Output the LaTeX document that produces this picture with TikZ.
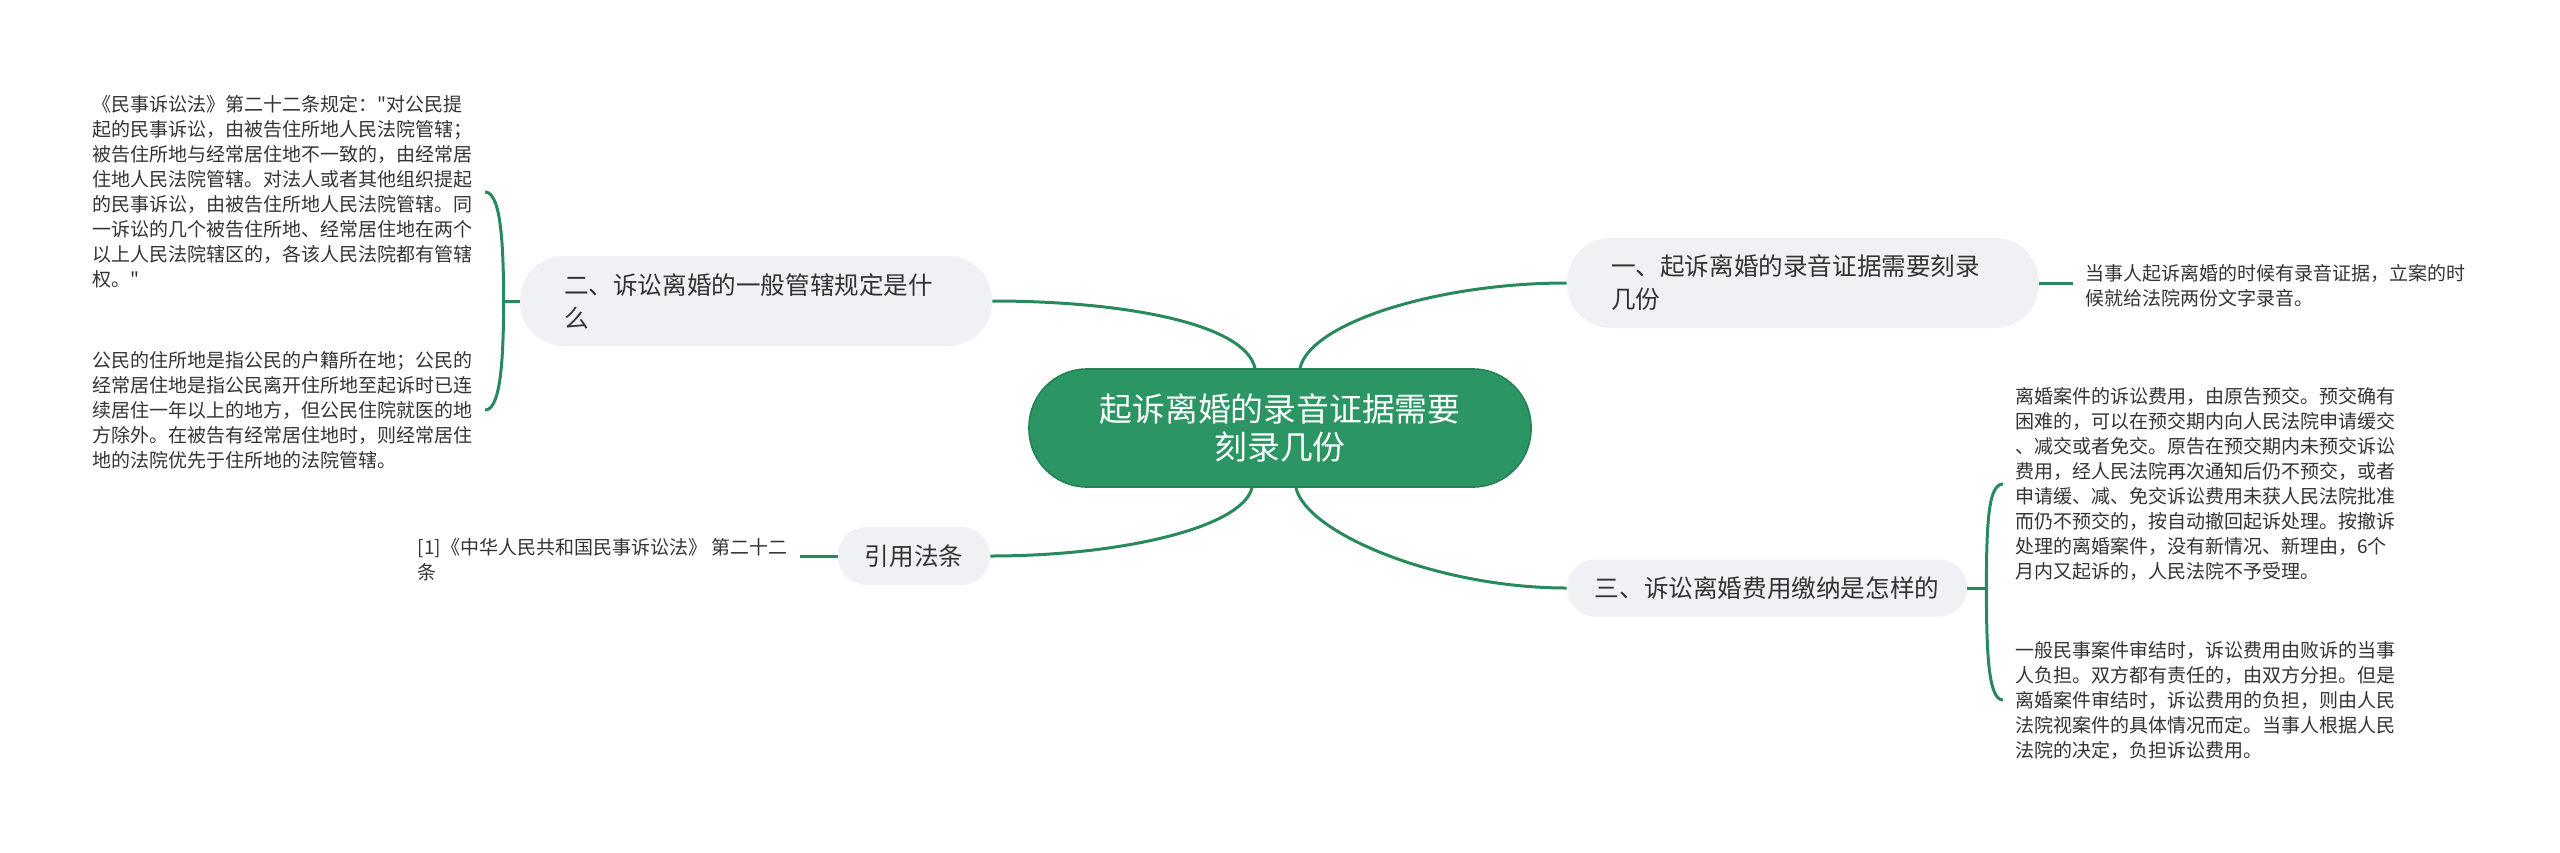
\documentclass[tikz,border=0pt]{standalone}
\usepackage{fontspec}
\setmainfont{Noto Sans CJK SC}[Ligatures=TeXOff]
\usepackage{tikz}
\usetikzlibrary{calc}
\definecolor{mapgreen}{RGB}{43,150,100}
\definecolor{linegreen}{RGB}{40,138,92}
\definecolor{boxgrey}{RGB}{239,241,244}
\definecolor{textgrey}{RGB}{51,51,51}

\begin{document}
\begin{tikzpicture}[x=0.5pt,y=-0.5pt,auto]
		\tikzstyle{rootnode}=[rectangle,rounded corners=29pt,fill=mapgreen,
			draw=mapgreen!85!black,line width=0.8pt,minimum width=251pt,
			minimum height=59pt,text=white,align=center,
			font=\fontsize{16.4pt}{19pt}\selectfont];
		\tikzstyle{topic}=[rectangle,fill=boxgrey,text=textgrey,inner sep=0pt,
			font=\fontsize{12.3pt}{16.5pt}\selectfont];
		\tikzstyle{leaf}=[align=left,text=textgrey,inner xsep=6pt,
			font=\fontsize{9.5pt}{12.5pt}\selectfont];
		\tikzstyle{link}=[draw=linegreen,line width=1.5pt];
		\useasboundingbox (0,0) rectangle (2560,852);

		\node[rootnode](c) at (1280,428){起诉离婚的录音证据需要\\刻录几份};
		\node[topic,minimum width=236pt,minimum height=45pt,rounded corners=22pt,
			text width=192pt,align=left](1) at (1803,283){一、起诉离婚的录音证据需要刻录\\几份};
		\node[topic,minimum width=236pt,minimum height=45pt,rounded corners=22pt,
			text width=192pt,align=left](2) at (756,301){二、诉讼离婚的一般管辖规定是什\\么};
		\node[topic,minimum width=200pt,minimum height=28.5pt,rounded corners=14pt](3) at (1767,588){三、诉讼离婚费用缴纳是怎样的};
		\node[topic,minimum width=76pt,minimum height=29pt,rounded corners=14pt](4) at (914,556){引用法条};

		\node[leaf,anchor=west](10) at (2073,286){当事人起诉离婚的时候有录音证据，立案的时\\候就给法院两份文字录音。};
		\node[leaf,anchor=east](20) at (485,192){《民事诉讼法》第二十二条规定："对公民提\\起的民事诉讼，由被告住所地人民法院管辖；\\被告住所地与经常居住地不一致的，由经常居\\住地人民法院管辖。对法人或者其他组织提起\\的民事诉讼，由被告住所地人民法院管辖。同\\一诉讼的几个被告住所地、经常居住地在两个\\以上人民法院辖区的，各该人民法院都有管辖\\权。"};
		\node[leaf,anchor=east](21) at (485,410){公民的住所地是指公民的户籍所在地；公民的\\经常居住地是指公民离开住所地至起诉时已连\\续居住一年以上的地方，但公民住院就医的地\\方除外。在被告有经常居住地时，则经常居住\\地的法院优先于住所地的法院管辖。};
		\node[leaf,anchor=west](30) at (2003,484){离婚案件的诉讼费用，由原告预交。预交确有\\困难的，可以在预交期内向人民法院申请缓交\\、减交或者免交。原告在预交期内未预交诉讼\\费用，经人民法院再次通知后仍不预交，或者\\申请缓、减、免交诉讼费用未获人民法院批准\\而仍不预交的，按自动撤回起诉处理。按撤诉\\处理的离婚案件，没有新情况、新理由，6个\\月内又起诉的，人民法院不予受理。};
		\node[leaf,anchor=west](31) at (2003,700){一般民事案件审结时，诉讼费用由败诉的当事\\人负担。双方都有责任的，由双方分担。但是\\离婚案件审结时，诉讼费用的负担，则由人民\\法院视案件的具体情况而定。当事人根据人民\\法院的决定，负担诉讼费用。};
		\node[leaf,anchor=east](40) at (800,560){[1]《中华人民共和国民事诉讼法》 第二十二\\条};

		\draw[link]([xshift=10pt]c.north) .. controls +(10,-45) and +(-130,0) .. (1.west);
		\draw[link]([xshift=-12.5pt]c.north) .. controls +(-10,-45) and +(130,0) .. (2.east);
		\draw[link]([xshift=8pt]c.south) .. controls +(10,45) and +(-130,0) .. (3.west);
		\draw[link]([xshift=-14pt]c.south) .. controls +(-10,40) and +(130,0) .. (4.east);

		\draw[link](1.east)--(1.east-|10.west);
		\draw[link](40.east|-4.west)--(4.west);
		\draw[link](2.west)--+(-16,0)coordinate(b2);
		\draw[link](20.east) .. controls +(14,0) and +(0,-70) .. (b2) .. controls +(0,70) and +(14,0) .. (21.east);
		\draw[link](3.east)--+(19,0)coordinate(b3);
		\draw[link](30.west) .. controls +(-14,0) and +(0,-70) .. (b3) .. controls +(0,70) and +(-14,0) .. (31.west);
	\end{tikzpicture}
\end{document}
